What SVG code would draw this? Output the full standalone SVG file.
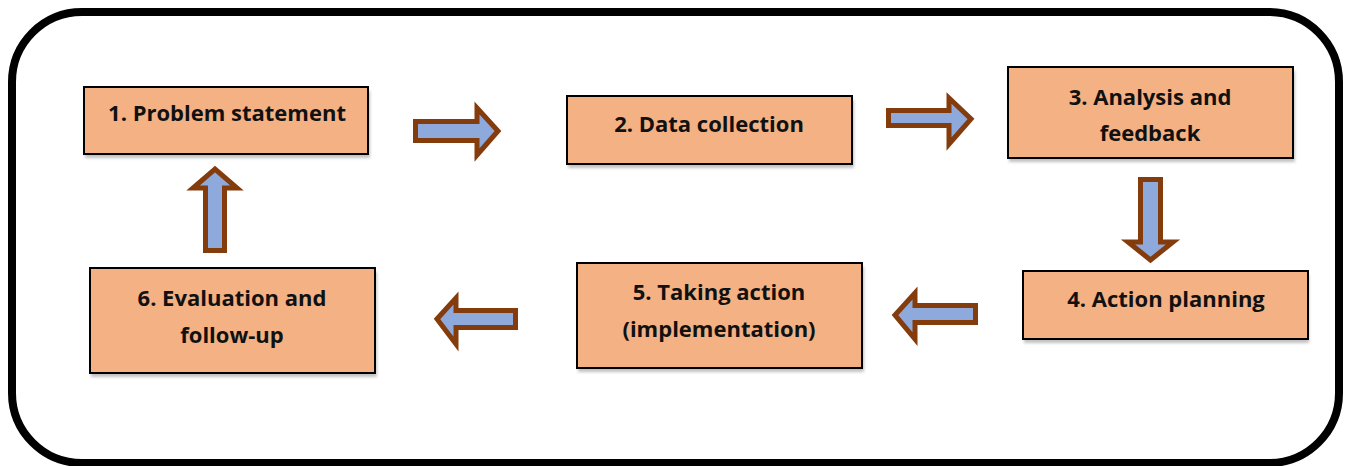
<svg xmlns="http://www.w3.org/2000/svg" width="1346" height="466" viewBox="0 0 1346 466">
<defs>
<style>
.box{fill:#F4B183;stroke:#000;stroke-width:2}
.shadow{fill:#9a9a9a;opacity:0.6}
.lbl{font-family:"Open Sans","Liberation Sans",Arial,sans-serif;font-weight:bold;font-size:22px;fill:#111;text-anchor:middle}
.arr{fill:#8EA9DB;stroke:#843C0C;stroke-width:5;stroke-linejoin:miter}
</style>
<filter id="blur" x="-5%" y="-20%" width="110%" height="140%"><feGaussianBlur stdDeviation="1.5"/></filter>
</defs>
<rect x="12" y="12" width="1327" height="451" rx="70" ry="70" fill="#fff" stroke="#000" stroke-width="8"/>
<g id="connectors">
<path class="arr" d="M415.5,121.5 H477 V108 L498,131 L477,155 V140.5 H415.5 Z"/>
<path class="arr" d="M888.5,110.5 H949 V98 L971,119 L949,144 V125.5 H888.5 Z"/>
<path class="arr" d="M1140.5,179.5 H1160.5 V242 H1173 L1150.5,260 L1128,242 H1140.5 Z"/>
<path class="arr" d="M975.5,305.5 H915 V293 L895,315 L915,339 V322.5 H975.5 Z"/>
<path class="arr" d="M515.5,310.5 H456 V298 L437,319 L456,344 V327.5 H515.5 Z"/>
<path class="arr" d="M205.5,250.5 V188 H193 L215,169 L237,188 H224.5 V250.5 Z"/>
</g>
<g id="node1">
<rect class="shadow" x="85" y="91" width="285" height="67" filter="url(#blur)"/>
<rect class="box" x="84" y="87" width="284" height="67"/>
<text class="lbl" x="227" y="121">1. Problem statement</text>
</g>
<g id="node2">
<rect class="shadow" x="568" y="100" width="286" height="68" filter="url(#blur)"/>
<rect class="box" x="567" y="96" width="285" height="68"/>
<text class="lbl" x="709" y="132">2. Data collection</text>
</g>
<g id="node3">
<rect class="shadow" x="1009" y="71" width="286" height="91" filter="url(#blur)"/>
<rect class="box" x="1008" y="67" width="285" height="91"/>
<text class="lbl" x="1150" y="105">3. Analysis and</text>
<text class="lbl" x="1150" y="141">feedback</text>
</g>
<g id="node4">
<rect class="shadow" x="1024" y="275" width="285" height="68" filter="url(#blur)"/>
<rect class="box" x="1023" y="271" width="285" height="68"/>
<text class="lbl" x="1166" y="307">4. Action planning</text>
</g>
<g id="node5">
<rect class="shadow" x="578" y="267" width="286" height="105" filter="url(#blur)"/>
<rect class="box" x="577" y="263" width="285" height="105"/>
<text class="lbl" x="719" y="300">5. Taking action</text>
<text class="lbl" x="719" y="337">(implementation)</text>
</g>
<g id="node6">
<rect class="shadow" x="91" y="272" width="286" height="105" filter="url(#blur)"/>
<rect class="box" x="90" y="268" width="285" height="105"/>
<text class="lbl" x="232" y="306">6. Evaluation and</text>
<text class="lbl" x="232" y="343">follow-up</text>
</g>
</svg>
